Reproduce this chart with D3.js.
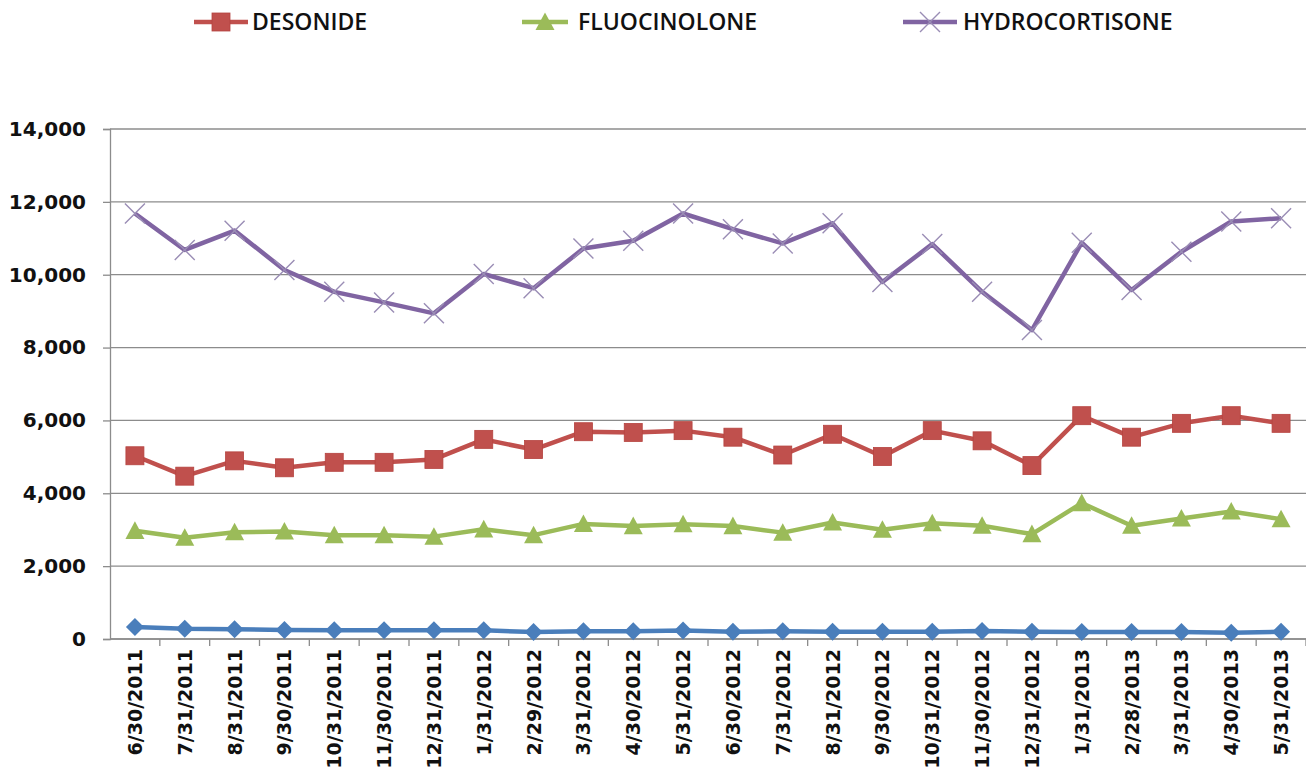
<!DOCTYPE html>
<html>
<head>
<meta charset="utf-8">
<script src="https://cdn.jsdelivr.net/npm/d3@7"></script>
<style>
  body { margin: 0; background: #fff; }
  svg { display: block; }
</style>
</head>
<body>
<div id="chart"></div>
<script>
// categories (month ends)
var dates = ["6/30/2011", "7/31/2011", "8/31/2011", "9/30/2011", "10/31/2011", "11/30/2011",
  "12/31/2011", "1/31/2012", "2/29/2012", "3/31/2012", "4/30/2012", "5/31/2012",
  "6/30/2012", "7/31/2012", "8/31/2012", "9/30/2012", "10/31/2012", "11/30/2012",
  "12/31/2012", "1/31/2013", "2/28/2013", "3/31/2013", "4/30/2013", "5/31/2013"];

// series values
var unnamed = [330, 280, 270, 250, 240, 240, 240, 240, 190, 210, 210, 230,
  200, 210, 200, 200, 200, 220, 200, 190, 190, 190, 170, 200];
var desonide = [5030, 4470, 4890, 4700, 4850, 4850, 4930, 5480, 5200, 5690, 5670, 5720,
  5540, 5050, 5620, 5010, 5720, 5440, 4760, 6130, 5540, 5920, 6130, 5920];
var fluocinolone = [2970, 2780, 2930, 2950, 2850, 2850, 2810, 3010, 2850, 3160, 3100, 3150,
  3100, 2920, 3200, 3000, 3180, 3110, 2880, 3730, 3110, 3310, 3500, 3290];
var hydrocortisone = [11680, 10680, 11210, 10130, 9530, 9240, 8940, 10020, 9630, 10720, 10930, 11680,
  11250, 10860, 11410, 9800, 10840, 9530, 8480, 10880, 9580, 10630, 11460, 11550];

var yTicks = [0, 2000, 4000, 6000, 8000, 10000, 12000, 14000];

var width = 1306, height = 774,
    margin = {top: 129, right: 0, bottom: 135, left: 110};

var series = [
  {name: "", values: unnamed, color: "#4A7EBB", marker: "diamond", legend: false},
  {name: "DESONIDE", values: desonide, color: "#C0504D", marker: "square", legend: true},
  {name: "FLUOCINOLONE", values: fluocinolone, color: "#9BBB59", marker: "triangle", legend: true},
  {name: "HYDROCORTISONE", values: hydrocortisone, color: "#8064A2", marker: "cross", legend: true}
];

var svg = d3.select("#chart").append("svg")
    .attr("width", width)
    .attr("height", height);

var xScale = d3.scalePoint().domain(dates)
    .range([margin.left, width - margin.right]).padding(0.5);
var xBand = d3.scaleBand().domain(dates)
    .range([margin.left, width - margin.right]);
var yScale = d3.scaleLinear().domain([0, 14000])
    .range([height - margin.bottom, margin.top]);

// gridlines
svg.append("g")
   .selectAll("line")
   .data(yTicks)
   .enter().append("line")
   .attr("x1", margin.left)
   .attr("x2", width - margin.right)
   .attr("y1", function(d) { return yScale(d); })
   .attr("y2", function(d) { return yScale(d); })
   .attr("stroke", "#8c8c8c")
   .attr("stroke-width", 1.3);

// y axis
var yAxis = d3.axisLeft(yScale).tickValues(yTicks).tickSize(7).tickPadding(17)
    .tickFormat(d3.format(","));
var gy = svg.append("g")
    .attr("transform", "translate(" + margin.left + ",0)")
    .call(yAxis);
gy.select(".domain").attr("stroke", "#8c8c8c").attr("stroke-width", 1.3);
gy.selectAll(".tick line").attr("stroke", "#8c8c8c").attr("stroke-width", 1.3);
gy.selectAll("text")
  .style("font-family", "'DejaVu Sans', Verdana, sans-serif")
  .style("font-weight", "bold")
  .style("font-size", "20px")
  .attr("fill", "#111");

// x axis: ticks between categories, like the original
var y0 = yScale(0);
var gx = svg.append("g");
gx.append("line")
  .attr("x1", margin.left).attr("x2", width - margin.right)
  .attr("y1", y0).attr("y2", y0)
  .attr("stroke", "#8c8c8c").attr("stroke-width", 1.3);
gx.selectAll(".xtick")
  .data(dates)
  .enter().append("line")
  .attr("class", "xtick")
  .attr("x1", function(d) { return xBand(d) + xBand.bandwidth(); })
  .attr("x2", function(d) { return xBand(d) + xBand.bandwidth(); })
  .attr("y1", y0).attr("y2", y0 + 7)
  .attr("stroke", "#8c8c8c").attr("stroke-width", 1.3);
gx.selectAll(".xlabel")
  .data(dates)
  .enter().append("text")
  .attr("class", "xlabel")
  .attr("transform", function(d) {
    return "translate(" + (xScale(d) + 7) + "," + (y0 + 10) + ") rotate(-90)";
  })
  .attr("text-anchor", "end")
  .style("font-family", "'DejaVu Sans', Verdana, sans-serif")
  .style("font-weight", "bold")
  .style("font-size", "19px")
  .attr("fill", "#111")
  .text(function(d) { return d; });

// markers
function drawMarker(g, type, color, size) {
  var s = size / 2;
  if (type == "square") {
    g.append("rect")
     .attr("x", -s).attr("y", -s).attr("width", size).attr("height", size)
     .attr("fill", color).attr("stroke", "#b5433f").attr("stroke-width", 0.8);
  } else if (type == "diamond") {
    g.append("path")
     .attr("d", "M0," + (-s) + "L" + s + ",0L0," + s + "L" + (-s) + ",0Z")
     .attr("fill", color);
  } else if (type == "triangle") {
    g.append("path")
     .attr("d", "M0," + (-s) + "L" + s + "," + (s * 0.85) + "L" + (-s) + "," + (s * 0.85) + "Z")
     .attr("fill", color);
  } else if (type == "cross") {
    g.append("path")
     .attr("d", "M" + (-s) + "," + (-s) + "L" + s + "," + s + "M" + (-s) + "," + s + "L" + s + "," + (-s))
     .attr("stroke", "#9a8db5").attr("stroke-width", 1.4).attr("fill", "none");
  }
}

var markerSize = {square: 18, diamond: 18, triangle: 19, cross: 20};

var line = d3.line()
    .x(function(d, i) { return xScale(dates[i]); })
    .y(function(d) { return yScale(d); });

series.forEach(function(s) {
  var g = svg.append("g");
  g.append("path")
   .datum(s.values)
   .attr("d", line)
   .attr("fill", "none")
   .attr("stroke", s.color)
   .attr("stroke-width", 4.5)
   .attr("stroke-linejoin", "round");
  g.selectAll(".pt")
   .data(s.values)
   .enter().append("g")
   .attr("class", "pt")
   .attr("transform", function(d, i) { return "translate(" + xScale(dates[i]) + "," + yScale(d) + ")"; })
   .each(function() { drawMarker(d3.select(this), s.marker, s.color, markerSize[s.marker]); });
});

// legend
var legendX = {"DESONIDE": 194, "FLUOCINOLONE": 522, "HYDROCORTISONE": 903};
var legendLen = {"DESONIDE": 54, "FLUOCINOLONE": 46, "HYDROCORTISONE": 54};
var legendGap = {"DESONIDE": 4, "FLUOCINOLONE": 10, "HYDROCORTISONE": 6};
series.filter(function(s) { return s.legend; }).forEach(function(s) {
  var lx = legendX[s.name], len = legendLen[s.name];
  var g = svg.append("g").attr("transform", "translate(" + lx + ",22)");
  g.append("line")
   .attr("x1", 0).attr("x2", len).attr("y1", 0).attr("y2", 0)
   .attr("stroke", s.color).attr("stroke-width", 4.5);
  var m = g.append("g").attr("transform", "translate(" + (len / 2) + ",0)");
  drawMarker(m, s.marker, s.color, markerSize[s.marker]);
  g.append("text")
   .attr("x", len + legendGap[s.name])
   .attr("y", 0)
   .attr("dy", "0.36em")
   .style("font-family", "'Open Sans', sans-serif")
   .style("font-weight", "600")
   .style("font-size", "23px")
   .attr("fill", "#111")
   .text(s.name);
});
</script>
</body>
</html>
